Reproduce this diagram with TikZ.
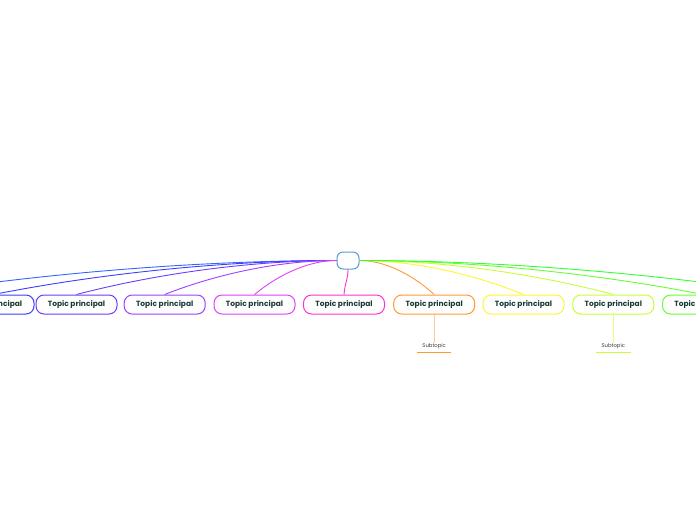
\documentclass[tikz,border=0pt]{standalone}
\usepackage{fontspec}
\setmainfont{Poppins}
\usetikzlibrary{calc}
\definecolor{hubblue}{HTML}{5B9BD5}
\definecolor{textteal}{HTML}{1B3B36}
\definecolor{subgray}{HTML}{3A3A3A}
\definecolor{farblue}{HTML}{3366FF}
\definecolor{cblue}{HTML}{3D3DFF}
\definecolor{cindigo}{HTML}{6A3DFF}
\definecolor{cviolet}{HTML}{A040FF}
\definecolor{cmagenta}{HTML}{E040FF}
\definecolor{cpink}{HTML}{FF33CC}
\definecolor{corange}{HTML}{FF9933}
\definecolor{cyellow}{HTML}{FFF533}
\definecolor{clime}{HTML}{C8FF33}
\definecolor{cgreen}{HTML}{66FF33}
\definecolor{fargreen}{HTML}{33FF33}
\begin{document}
\begin{tikzpicture}[x=1pt,y=-1pt,
	hub/.style={draw=hubblue,line width=1pt,fill=white,rounded corners=6pt,minimum width=22pt,minimum height=17pt,inner sep=0pt},
	topic/.style={draw=#1,line width=1pt,fill=white,rounded corners=8pt,minimum width=81pt,minimum height=19pt,inner sep=0pt,font=\fontsize{7.5}{8}\selectfont\bfseries,text=textteal},
	sub/.style={inner sep=1pt,minimum width=34pt,font=\fontsize{5.3}{6}\selectfont,text=subgray},
	branch/.style={line width=0.9pt}
	]
	\useasboundingbox (0,0) rectangle (696,520);
	\clip (0,0) rectangle (696,520);
	% central idea
	\node[hub] (hub) at (348,260.5) {};
	% main topics
	\node[topic=cblue] (t1) at (-6.5,304.5) {Topic principal};
	\node[topic=cindigo] (t2) at (76.5,304.5) {Topic principal};
	\node[topic=cviolet] (t3) at (164.7,304.5) {Topic principal};
	\node[topic=cmagenta] (t4) at (254.5,304.5) {Topic principal};
	\node[topic=cpink] (t5) at (344,304.5) {Topic principal};
	\node[topic=corange] (t6) at (434.2,304.5) {Topic principal};
	\node[topic=cyellow] (t7) at (523.5,304.5) {Topic principal};
	\node[topic=clime] (t8) at (613.3,304.5) {Topic principal};
	\node[topic=cgreen] (t9) at (703,304.5) {Topic principal};
	% branches leaving the page
	\coordinate (farleft) at (-95.5,295);
	\coordinate (farright) at (792.5,295);
	% branches
	\foreach \e/\t/\c in {west/farleft/farblue,west/t1.north/cblue,west/t2.north/cindigo,west/t3.north/cviolet,west/t4.north/cmagenta,
		east/t6.north/corange,east/t7.north/cyellow,east/t8.north/clime,east/t9.north/cgreen,east/farright/fargreen}{
		\coordinate (q) at ($(hub.\e)!0.5!(\t |- hub.\e)$);
		\draw[branch,\c] (hub.\e) .. controls ($(hub.\e)!0.667!(q)$) and ($(\t)!0.6!(q)$) .. (\t);
	}
	\draw[branch,cpink] (hub.south) .. controls +(0,10) and +(1,-12) .. (t5.north);
	% subtopics
	\node[sub] (s6) at (434.2,346.5) {Subtopic};
	\node[sub] (s8) at (613.3,346.5) {Subtopic};
	\draw[line width=0.6pt,corange!50] (t6.south) -- (s6.north);
	\draw[line width=0.6pt,clime!60] (t8.south) -- (s8.north);
	\draw[line width=1.6pt,corange] ([yshift=-2pt]s6.south west) -- ([yshift=-2pt]s6.south east);
	\draw[line width=1.6pt,clime] ([yshift=-2pt]s8.south west) -- ([yshift=-2pt]s8.south east);
\end{tikzpicture}
\end{document}
